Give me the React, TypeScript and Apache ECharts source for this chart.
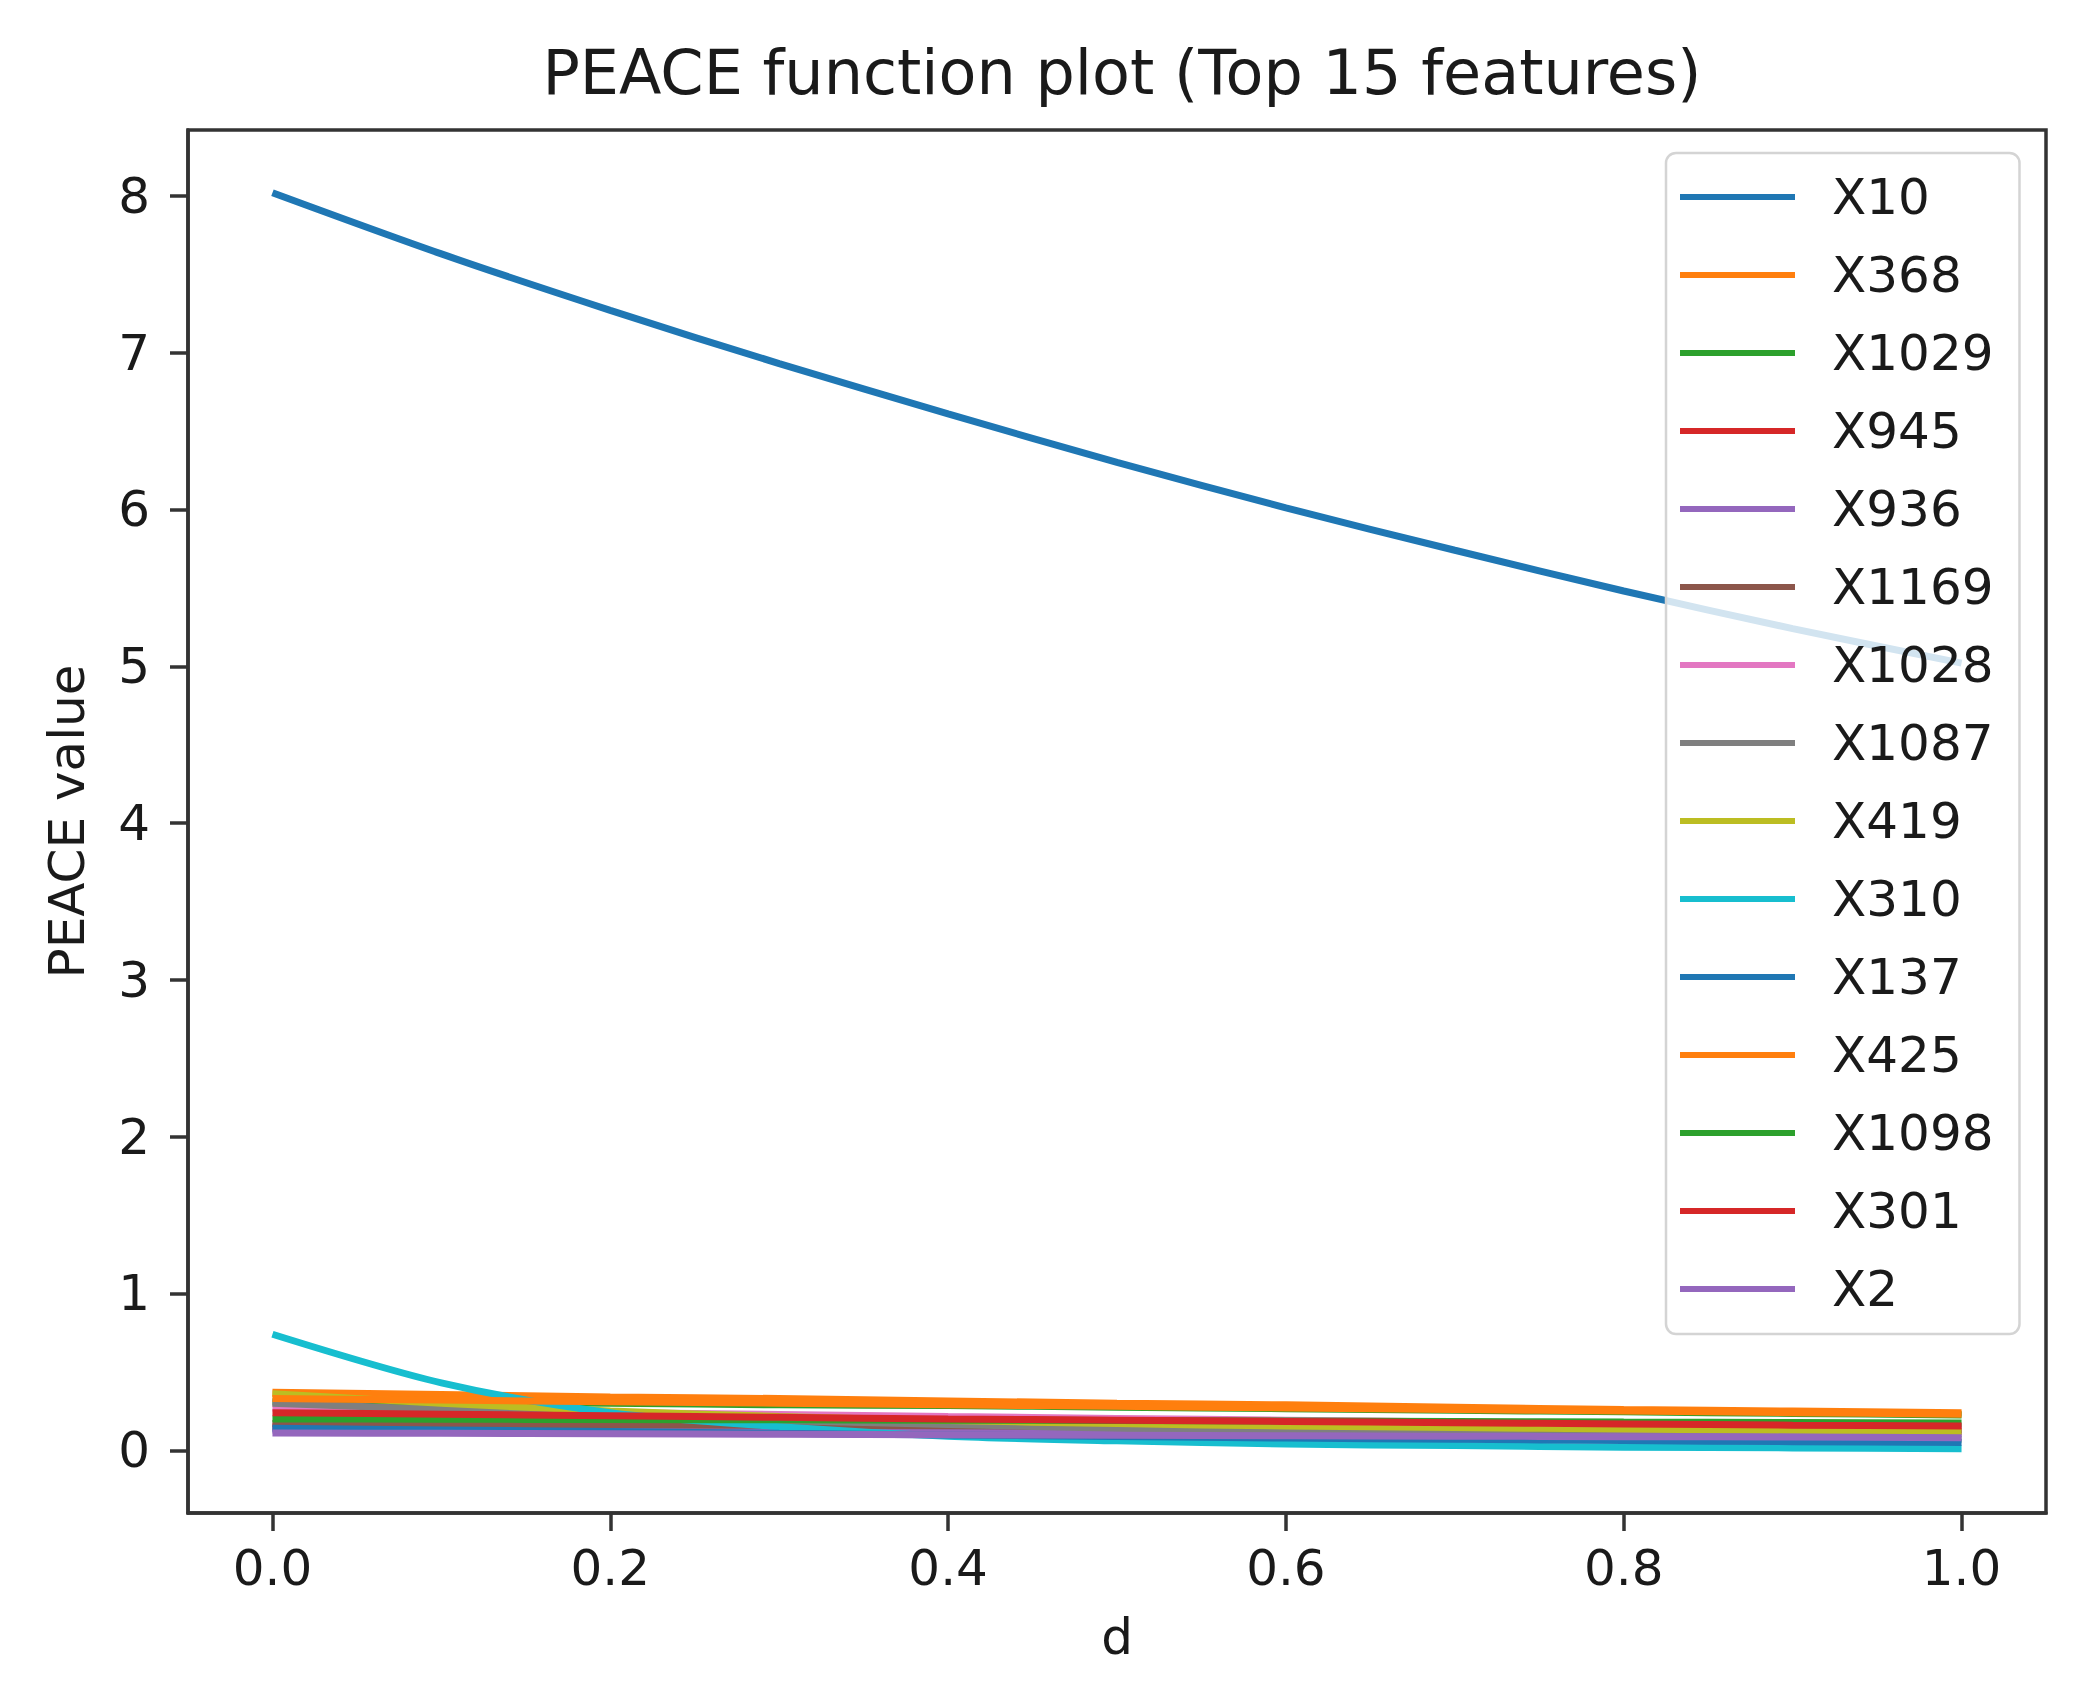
import React, { useEffect, useRef } from "react";
import * as echarts from "echarts";

const dValues = [0, 0.1, 0.2, 0.3, 0.4, 0.5, 0.6, 0.7, 0.8, 0.9, 1.0];

const featureNames = [
  "X10", "X368", "X1029", "X945", "X936", "X1169", "X1028", "X1087",
  "X419", "X310", "X137", "X425", "X1098", "X301", "X2",
];

const X10 = [8.02, 7.63, 7.27, 6.93, 6.61, 6.3, 6.01, 5.74, 5.48, 5.24, 5.02];
const X368 = [0.37, 0.355, 0.34, 0.33, 0.315, 0.3, 0.29, 0.275, 0.26, 0.25, 0.24];
const X1029 = [0.31, 0.305, 0.3, 0.29, 0.285, 0.275, 0.265, 0.255, 0.245, 0.235, 0.225];
const X945 = [0.15, 0.148, 0.145, 0.142, 0.14, 0.137, 0.134, 0.131, 0.128, 0.125, 0.122];
const X936 = [0.13, 0.128, 0.126, 0.124, 0.122, 0.12, 0.118, 0.115, 0.112, 0.11, 0.108];
const X1169 = [0.17, 0.167, 0.163, 0.16, 0.156, 0.152, 0.148, 0.144, 0.14, 0.136, 0.132];
const X1028 = [0.27, 0.255, 0.24, 0.228, 0.215, 0.203, 0.192, 0.18, 0.17, 0.16, 0.15];
const X1087 = [0.3, 0.26, 0.22, 0.19, 0.165, 0.14, 0.12, 0.105, 0.09, 0.08, 0.07];
const X419 = [0.36, 0.3, 0.25, 0.215, 0.19, 0.17, 0.155, 0.145, 0.135, 0.128, 0.12];
const X310 = [0.74, 0.43, 0.24, 0.15, 0.09, 0.06, 0.04, 0.03, 0.02, 0.015, 0.01];
const X137 = [0.14, 0.13, 0.12, 0.108, 0.098, 0.088, 0.078, 0.07, 0.062, 0.055, 0.05];
const X425 = [0.33, 0.32, 0.31, 0.3, 0.29, 0.28, 0.27, 0.26, 0.25, 0.24, 0.23];
const X1098 = [0.2, 0.198, 0.196, 0.194, 0.192, 0.19, 0.187, 0.184, 0.18, 0.177, 0.174];
const X301 = [0.24, 0.23, 0.22, 0.21, 0.2, 0.192, 0.184, 0.176, 0.168, 0.16, 0.155];
const X2 = [0.11, 0.108, 0.105, 0.102, 0.099, 0.096, 0.093, 0.09, 0.087, 0.084, 0.08];

const seriesValues = [
  X10, X368, X1029, X945, X936, X1169, X1028, X1087,
  X419, X310, X137, X425, X1098, X301, X2,
];

const colors = [
  "#1f77b4", "#ff7f0e", "#2ca02c", "#d62728", "#9467bd", "#8c564b", "#e377c2",
  "#7f7f7f", "#bcbd22", "#17becf", "#1f77b4", "#ff7f0e", "#2ca02c", "#d62728", "#9467bd",
];

const xTickValues = [0, 0.2, 0.4, 0.6, 0.8, 1.0];
const xTickLabels = ["0.0", "0.2", "0.4", "0.6", "0.8", "1.0"];
const yTickValues = [0, 1, 2, 3, 4, 5, 6, 7, 8];
const yTickLabels = ["0", "1", "2", "3", "4", "5", "6", "7", "8"];

const FONT = "DejaVu Sans";
const AXIS_COLOR = "#333333";
const TEXT_COLOR = "#1a1a1a";

export default function App() {
  const ref = useRef<HTMLDivElement>(null);

  useEffect(() => {
    document.body.style.margin = "0";
    if (!ref.current) return;
    const chart = echarts.init(ref.current, null, { renderer: "svg" });

    const labelFor = (vals: number[], labels: string[]) => (v: number) => {
      for (let i = 0; i < vals.length; i++) {
        if (Math.abs(vals[i] - v) < 1e-9) return labels[i];
      }
      return String(v);
    };

    const option: any = {
      animation: false,
      backgroundColor: "#ffffff",
      title: {
        text: "PEACE function plot (Top 15 features)",
        left: 1117,
        top: 36,
        textAlign: "center",
        textStyle: {
          fontFamily: FONT,
          fontSize: 62,
          fontWeight: "normal",
          color: TEXT_COLOR,
        },
      },
      grid: {
        left: 188,
        right: 38,
        top: 130,
        bottom: 187,
        show: true,
        borderColor: AXIS_COLOR,
        borderWidth: 3.5,
        backgroundColor: "transparent",
      },
      legend: {
        orient: "vertical",
        left: 1666,
        top: 153,
        data: featureNames,
        icon: "rect",
        itemWidth: 115,
        itemHeight: 6,
        itemGap: 28,
        padding: [19, 26, 20, 14],
        backgroundColor: "rgba(255,255,255,0.8)",
        borderColor: "#d4d4d4",
        borderWidth: 2.5,
        borderRadius: 10,
        selectedMode: false,
        textStyle: {
          fontFamily: FONT,
          fontSize: 50,
          lineHeight: 50,
          color: TEXT_COLOR,
          padding: [0, 0, 0, 32],
        },
      },
      xAxis: {
        type: "value",
        min: -0.05,
        max: 1.05,
        name: "d",
        nameLocation: "middle",
        nameGap: 99,
        nameTextStyle: { fontFamily: FONT, fontSize: 50, color: TEXT_COLOR },
        axisLine: { show: true, onZero: false, lineStyle: { color: AXIS_COLOR, width: 3.5 } },
        axisTick: {
          show: true,
          length: 18,
          customValues: xTickValues,
          lineStyle: { color: AXIS_COLOR, width: 3.5 },
        },
        axisLabel: {
          customValues: xTickValues,
          formatter: labelFor(xTickValues, xTickLabels),
          margin: 30,
          fontFamily: FONT,
          fontSize: 50,
          color: TEXT_COLOR,
        },
        splitLine: { show: false },
      },
      yAxis: {
        type: "value",
        min: -0.4,
        max: 8.42,
        name: "PEACE value",
        nameLocation: "middle",
        nameGap: 96,
        nameTextStyle: { fontFamily: FONT, fontSize: 50, color: TEXT_COLOR },
        axisLine: { show: true, onZero: false, lineStyle: { color: AXIS_COLOR, width: 3.5 } },
        axisTick: {
          show: true,
          length: 18,
          customValues: yTickValues,
          lineStyle: { color: AXIS_COLOR, width: 3.5 },
        },
        axisLabel: {
          customValues: yTickValues,
          formatter: labelFor(yTickValues, yTickLabels),
          margin: 38,
          fontFamily: FONT,
          fontSize: 50,
          color: TEXT_COLOR,
        },
        splitLine: { show: false },
      },
      series: featureNames.map((name, i) => ({
        name,
        type: "line",
        showSymbol: false,
        symbol: "none",
        smooth: 0.3,
        color: colors[i],
        lineStyle: { color: colors[i], width: 7 },
        data: dValues.map((d, j) => [d, seriesValues[i][j]]),
      })),
    };

    chart.setOption(option);
    return () => chart.dispose();
  }, []);

  return <div ref={ref} style={{ width: 2084, height: 1700 }} />;
}
